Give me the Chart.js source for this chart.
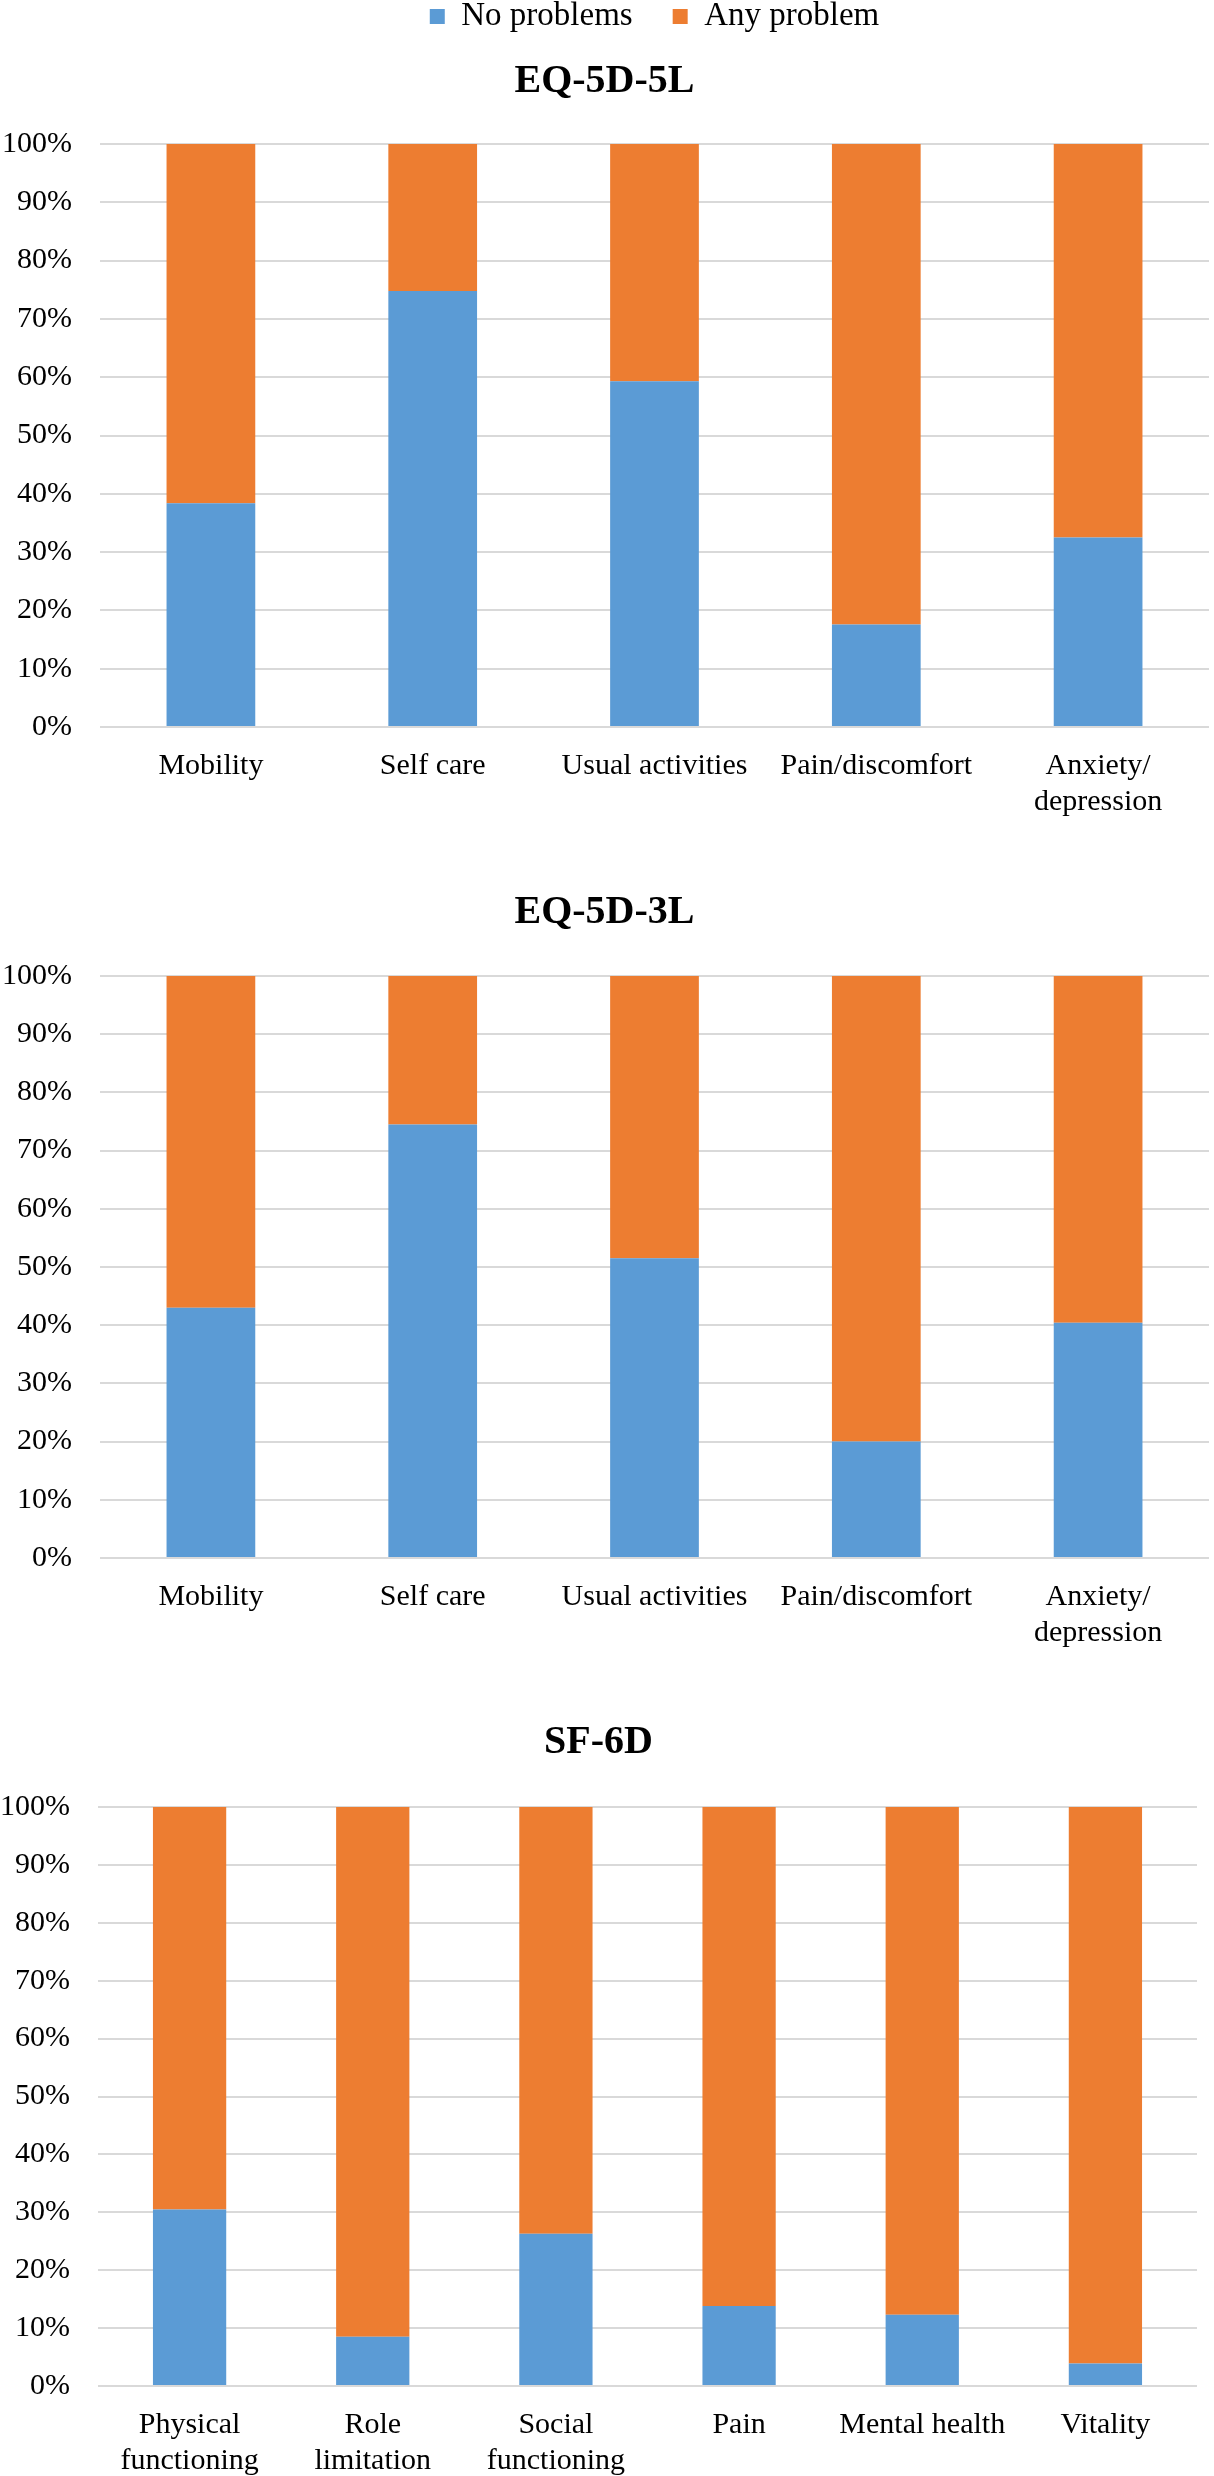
<!DOCTYPE html>
<html>
<head>
<meta charset="utf-8">
<script src="https://cdn.jsdelivr.net/npm/chart.js@4.4.1/dist/chart.umd.min.js"></script>
<style>
  html, body { margin: 0; padding: 0; background: #ffffff; }
  body { width: 1214px; height: 2476px; overflow: hidden; position: relative; }
  .wrap { position: absolute; left: 0; }
  canvas { display: block; }
</style>
</head>
<body>
<div class="wrap" id="w1" style="top:-40px"><canvas id="c1" width="1264" height="867"></canvas></div>
<div class="wrap" id="w2" style="top:850px"><canvas id="c2" width="1264" height="808"></canvas></div>
<div class="wrap" id="w3" style="top:1680px"><canvas id="c3" width="1264" height="796"></canvas></div>
<script>
// ---------- DATA ----------
const seriesNames = ['No problems', 'Any problem'];
const seriesColors = ['#5B9BD5', '#ED7D31'];

const eq5lTitle = 'EQ-5D-5L';
const eq5lCategories = ['Mobility', 'Self care', 'Usual activities', 'Pain/discomfort', ['Anxiety/', 'depression']];
const eq5lNoProblems = [38.4, 74.8, 59.3, 17.6, 32.5];
const eq5lAnyProblem = [61.6, 25.2, 40.7, 82.4, 67.5];

const eq3lTitle = 'EQ-5D-3L';
const eq3lCategories = ['Mobility', 'Self care', 'Usual activities', 'Pain/discomfort', ['Anxiety/', 'depression']];
const eq3lNoProblems = [43.0, 74.5, 51.5, 20.0, 40.4];
const eq3lAnyProblem = [57.0, 25.5, 48.5, 80.0, 59.6];

const sf6dTitle = 'SF-6D';
const sf6dCategories = [['Physical', 'functioning'], ['Role', 'limitation'], ['Social', 'functioning'], 'Pain', 'Mental health', 'Vitality'];
const sf6dNoProblems = [30.5, 8.5, 26.3, 13.8, 12.3, 3.9];
const sf6dAnyProblem = [69.5, 91.5, 73.7, 86.2, 87.7, 96.1];

const yTickMin = 0, yTickMax = 100, yTickStep = 10;
// ---------------------------

const FONT = "'Liberation Serif', 'Times New Roman', serif";

function makeChart(id, cfg) {
  const ctx = document.getElementById(id);
  return new Chart(ctx, {
    type: 'bar',
    data: {
      labels: cfg.labels,
      datasets: [
        { label: seriesNames[0], data: cfg.no, backgroundColor: seriesColors[0], borderWidth: 0,
          categoryPercentage: 1.0, barPercentage: 0.4 },
        { label: seriesNames[1], data: cfg.any, backgroundColor: seriesColors[1], borderWidth: 0,
          categoryPercentage: 1.0, barPercentage: 0.4 }
      ]
    },
    options: {
      responsive: false,
      animation: false,
      events: [],
      layout: { padding: { left: 0, right: cfg.padRight, top: 0, bottom: 0 } },
      plugins: {
        tooltip: { enabled: false },
        legend: {
          display: cfg.legend,
          position: 'top',
          fullSize: false,
          weight: 3000,
          labels: {
            font: { family: FONT, size: 33 },
            color: '#000000',
            boxWidth: 15,
            boxHeight: 15,
            padding: 40
          }
        },
        title: {
          display: true,
          text: cfg.title,
          color: '#000000',
          font: { family: FONT, size: 40, weight: 'bold' },
          padding: { top: cfg.titleTop, bottom: cfg.titleBottom }
        }
      },
      scales: {
        x: {
          stacked: true,
          grid: { display: false, drawTicks: false },
          border: { display: false },
          ticks: {
            font: { family: FONT, size: 30 },
            color: '#000000',
            padding: 21,
            maxRotation: 0,
            minRotation: 0,
            autoSkip: false
          },
          afterFit: (s) => { s.height = cfg.xHeight; }
        },
        y: {
          stacked: true,
          min: yTickMin,
          max: yTickMax,
          grid: { color: '#D9D9D9', lineWidth: 2, drawTicks: false },
          border: { display: false },
          ticks: {
            stepSize: yTickStep,
            font: { family: FONT, size: 30 },
            color: '#000000',
            padding: 28,
            callback: (v) => v + '%'
          },
          afterFit: (s) => { s.width = cfg.yWidth; }
        }
      }
    }
  });
}

makeChart('c1', { labels: eq5lCategories, no: eq5lNoProblems, any: eq5lAnyProblem, title: eq5lTitle,
  legend: true, titleTop: 15, titleBottom: 38, xHeight: 100, yWidth: 100, padRight: 55 });
makeChart('c2', { labels: eq3lCategories, no: eq3lNoProblems, any: eq3lAnyProblem, title: eq3lTitle,
  legend: false, titleTop: 38.5, titleBottom: 39.5, xHeight: 100, yWidth: 100, padRight: 55 });
makeChart('c3', { labels: sf6dCategories, no: sf6dNoProblems, any: sf6dAnyProblem, title: sf6dTitle,
  legend: false, titleTop: 39, titleBottom: 40, xHeight: 90, yWidth: 98, padRight: 67 });
</script>
</body>
</html>
